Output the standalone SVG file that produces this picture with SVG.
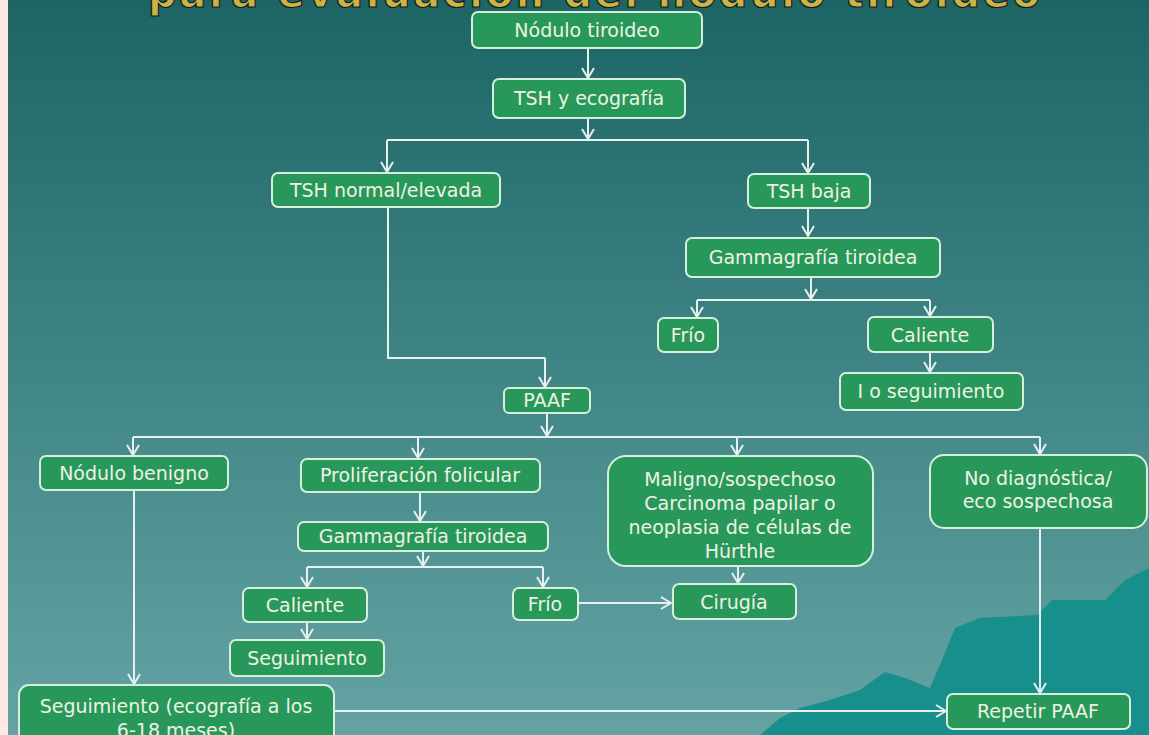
<svg xmlns="http://www.w3.org/2000/svg" width="1149" height="735" viewBox="0 0 1149 735">
<defs>
<linearGradient id="bg" x1="0" y1="0" x2="0" y2="1">
<stop offset="0" stop-color="#1d6464"/>
<stop offset="0.5" stop-color="#3f8585"/>
<stop offset="1" stop-color="#65a3a3"/>
</linearGradient>
<marker id="ah" viewBox="0 0 12 14" refX="11" refY="7" markerWidth="12" markerHeight="14" markerUnits="userSpaceOnUse" orient="auto">
<path d="M1,1 L11,7 L1,13" fill="none" stroke="#e6f0ee" stroke-width="2"/>
</marker>
<style>
.b{fill:#28985a;stroke:#d6eedc;stroke-width:2}
.t{font-family:"DejaVu Sans",Verdana,sans-serif;font-size:19px;fill:#eef2e4;text-anchor:middle}
.c{fill:none;stroke:#e6f0ee;stroke-width:2}
.a{fill:none;stroke:#e6f0ee;stroke-width:2;marker-end:url(#ah)}
</style>
</defs>
<rect x="0" y="0" width="1149" height="735" fill="url(#bg)"/>
<path d="M760,735 L780,718 L800,708 L830,700 L860,690 L885,672 L905,678 L930,688 L942,660 L955,628 L980,618 L1037,615 L1052,600 L1105,600 L1125,580 L1149,568 L1149,735 Z" fill="#178f8d"/>
<rect x="0" y="0" width="8" height="735" fill="#fde9e5"/>
<text x="148" y="7" font-family="DejaVu Sans,sans-serif" font-weight="bold" font-size="40" fill="#c9b445" stroke="#1a1a1a" stroke-width="1.2" textLength="892" lengthAdjust="spacing">para evaluación del nódulo tiroideo</text>

<g id="connectors">
<line class="a" x1="588" y1="48" x2="588" y2="78"/>
<line class="a" x1="588" y1="118" x2="588" y2="139"/>
<polyline class="c" points="387,140 808,140"/>
<line class="a" x1="387" y1="140" x2="387" y2="172"/>
<line class="a" x1="808" y1="140" x2="808" y2="173"/>
<line class="a" x1="808" y1="208" x2="808" y2="236"/>
<line class="a" x1="811" y1="277" x2="811" y2="299"/>
<polyline class="c" points="697,300 930,300"/>
<line class="a" x1="697" y1="300" x2="697" y2="317"/>
<line class="a" x1="930" y1="300" x2="930" y2="316"/>
<line class="a" x1="930" y1="352" x2="930" y2="372"/>
<polyline class="c" points="388,207 388,358 545,358"/>
<line class="a" x1="545" y1="358" x2="545" y2="387"/>
<line class="a" x1="547" y1="413" x2="547" y2="436"/>
<polyline class="c" points="133,437 1040,437"/>
<line class="a" x1="133" y1="437" x2="133" y2="455"/>
<line class="a" x1="418" y1="437" x2="418" y2="458"/>
<line class="a" x1="737" y1="437" x2="737" y2="455"/>
<line class="a" x1="1040" y1="437" x2="1040" y2="454"/>
<line class="a" x1="420" y1="492" x2="420" y2="521"/>
<line class="a" x1="423" y1="551" x2="423" y2="566"/>
<polyline class="c" points="307,567 543,567"/>
<line class="a" x1="307" y1="567" x2="307" y2="587"/>
<line class="a" x1="543" y1="567" x2="543" y2="587"/>
<line class="a" x1="307" y1="622" x2="307" y2="639"/>
<line class="a" x1="578" y1="603" x2="671" y2="603"/>
<line class="a" x1="738" y1="566" x2="738" y2="583"/>
<line class="a" x1="1040" y1="528" x2="1040" y2="693"/>
<line class="a" x1="134" y1="490" x2="134" y2="684"/>
<line class="a" x1="334" y1="711" x2="946" y2="711"/>
</g>

<g id="n1"><rect class="b" x="472" y="12" width="230" height="36" rx="6"/><text class="t" x="587" y="37">Nódulo tiroideo</text></g>
<g id="n2"><rect class="b" x="493" y="79" width="192" height="39" rx="6"/><text class="t" x="589" y="105">TSH  y ecografía</text></g>
<g id="n3"><rect class="b" x="272" y="173" width="228" height="34" rx="6"/><text class="t" x="386" y="197">TSH normal/elevada</text></g>
<g id="n4"><rect class="b" x="748" y="174" width="122" height="34" rx="6"/><text class="t" x="809" y="198">TSH baja</text></g>
<g id="n5"><rect class="b" x="686" y="238" width="254" height="39" rx="6"/><text class="t" x="813" y="264">Gammagrafía tiroidea</text></g>
<g id="n6"><rect class="b" x="658" y="318" width="60" height="34" rx="6"/><text class="t" x="688" y="342">Frío</text></g>
<g id="n7"><rect class="b" x="868" y="317" width="125" height="35" rx="6"/><text class="t" x="930" y="342">Caliente</text></g>
<g id="n8"><rect class="b" x="840" y="373" width="183" height="37" rx="6"/><text class="t" x="931" y="398">I o seguimiento</text></g>
<g id="n9"><rect class="b" x="504" y="388" width="86" height="25" rx="5"/><text class="t" x="547" y="407">PAAF</text></g>
<g id="n10"><rect class="b" x="40" y="456" width="188" height="34" rx="6"/><text class="t" x="134" y="480">Nódulo benigno</text></g>
<g id="n11"><rect class="b" x="301" y="459" width="239" height="33" rx="6"/><text class="t" x="420" y="482">Proliferación folicular</text></g>
<g id="n12"><rect class="b" x="298" y="522" width="250" height="29" rx="6"/><text class="t" x="423" y="543">Gammagrafía tiroidea</text></g>
<g id="n13"><rect class="b" x="608" y="456" width="265" height="110" rx="18"/>
<text class="t" x="740" y="486">Maligno/sospechoso</text>
<text class="t" x="740" y="510">Carcinoma papilar o</text>
<text class="t" x="740" y="534">neoplasia de células de</text>
<text class="t" x="740" y="558">Hürthle</text></g>
<g id="n14"><rect class="b" x="930" y="455" width="217" height="73" rx="14"/>
<text class="t" x="1038" y="485">No diagnóstica/</text>
<text class="t" x="1038" y="508">eco sospechosa</text></g>
<g id="n15"><rect class="b" x="243" y="588" width="124" height="34" rx="6"/><text class="t" x="305" y="612">Caliente</text></g>
<g id="n16"><rect class="b" x="230" y="640" width="154" height="36" rx="6"/><text class="t" x="307" y="665">Seguimiento</text></g>
<g id="n17"><rect class="b" x="513" y="588" width="65" height="32" rx="6"/><text class="t" x="545" y="611">Frío</text></g>
<g id="n18"><rect class="b" x="673" y="584" width="123" height="35" rx="6"/><text class="t" x="734" y="609">Cirugía</text></g>
<g id="n19"><rect class="b" x="19" y="685" width="315" height="60" rx="10"/>
<text class="t" x="176" y="713">Seguimiento (ecografía a los</text>
<text class="t" x="176" y="737">6-18 meses)</text></g>
<g id="n20"><rect class="b" x="947" y="694" width="183" height="35" rx="6"/><text class="t" x="1038" y="718">Repetir PAAF</text></g>
</svg>
